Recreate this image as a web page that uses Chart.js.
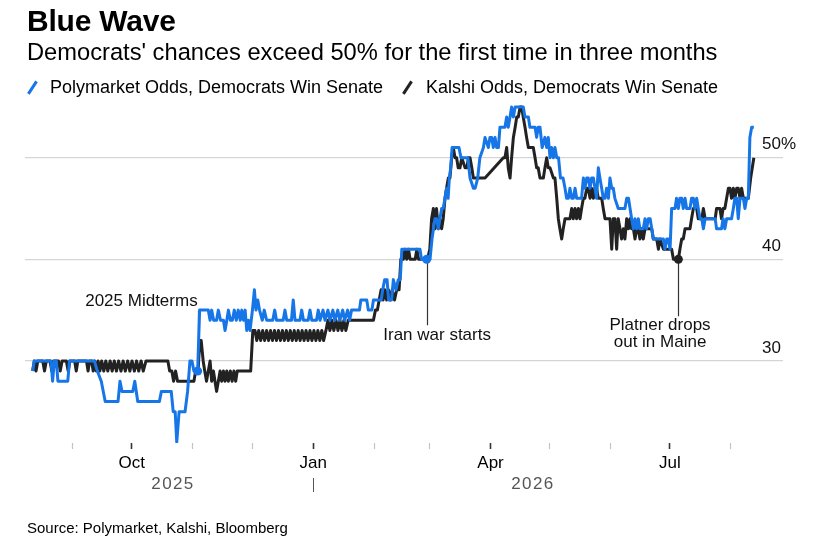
<!DOCTYPE html>
<html>
<head>
<meta charset="utf-8">
<script src="https://cdn.jsdelivr.net/npm/chart.js@4.4.1/dist/chart.umd.min.js"></script>
<style>
  html, body { margin: 0; padding: 0; background: #fff; }
  #wrap { position: relative; width: 838px; height: 544px; overflow: hidden;
          font-family: "Liberation Sans", Arial, Helvetica, sans-serif; color: #000; }
  #chart { position: absolute; left: 0; top: 0; width: 838px; height: 544px; }
  .t { position: absolute; white-space: nowrap; line-height: 1; }
  #title { left: 27px; top: 5.5px; font-size: 30px; font-weight: bold; letter-spacing: -0.2px; }
  #subtitle { left: 27px; top: 40.5px; font-size: 23.7px; }
  .leg { top: 78.2px; font-size: 18px; }
  #leg1 { left: 50px; }
  #leg2 { left: 426px; }
  .slash { position: absolute; width: 2.6px; height: 15px; top: 79.5px; transform: rotate(33deg); }
  #sl1 { left: 31.2px; background: #1676e8; }
  #sl2 { left: 406.2px; background: #222; }
  #source { left: 27px; top: 519.7px; font-size: 15px; }
</style>
</head>
<body>
<div id="wrap">
  <canvas id="chart" width="838" height="544"></canvas>
  <div class="t" id="title">Blue Wave</div>
  <div class="t" id="subtitle">Democrats' chances exceed 50% for the first time in three months</div>
  <div class="slash" id="sl1"></div>
  <div class="t leg" id="leg1">Polymarket Odds, Democrats Win Senate</div>
  <div class="slash" id="sl2"></div>
  <div class="t leg" id="leg2">Kalshi Odds, Democrats Win Senate</div>
  <div class="t" id="source">Source: Polymarket, Kalshi, Bloomberg</div>
</div>
<script>
// ---- DATA (x = days since 1 Sep 2025, y = % chance) ----
const polyDays = [
  -20.3,-19.5,-11,-10.2,-9.3,-8.3,-7.5,-2.5,-1.6,11,
  12.5,14.5,16.5,23,24,25,30.5,31.5,33,44,
  45,50,51,52,52.8,54,57,58.3,59.5,60.5,
  61.5,63.4,64.4,68.8,69.7,70.5,71.5,73,73.9,75,
  76.5,77.3,78.2,79,80,81,82,83,84,85,
  85.8,86.7,87.5,88.3,89.2,90,91.2,92.2,93,93.9,
  94.8,96.2,97.2,98.4,101.5,102.5,103.4,106.8,107.7,108.6,
  111,111.9,112.8,115.3,116.2,117.1,119.5,120.4,121.3,123.7,
  124.6,125.5,127,128,129.5,130.5,132,133,134.5,135.5,
  137,138,139.5,140.5,141.5,145.5,146.2,149.2,150,151.8,
  152.6,156.5,157.3,158.3,159.5,160.3,161.8,162.7,164,165.2,
  166.2,167,176.2,177,181.3,182.3,183.8,184.7,185.5,187.2,
  188,188.9,189.7,190.5,191.1,191.8,192.5,196,197,200.5,
  201.6,203.3,204.2,205.5,206.6,208.4,209.2,210.9,211.7,212.6,
  213.4,214.3,215.1,216,216.8,218.5,219.3,220.2,221,221.9,
  222.7,223.6,224.5,228.6,229.5,231.2,232,234.6,235.4,236.2,
  237.1,238.2,239.6,240.5,241.3,242.2,243,243.9,244.7,245.6,
  246.5,247.5,248.8,249.8,250.6,251.5,252.3,253.2,254,254.9,
  255.7,258.2,259.1,259.9,260.8,261.6,262.5,263.3,264.2,265,
  265.8,266.7,267.5,268.4,269.2,270.1,270.9,271.8,272.6,273.5,
  274.3,275.1,276.8,280.2,281.1,282,282.8,283.6,284.5,285.3,
  286.2,287,287.8,289.5,290.4,291.2,292.1,293,293.8,294.6,
  299.7,300.5,301.4,302.2,303.1,303.9,305.6,306.4,307.3,308.1,
  309,309.8,310.7,311.5,313.2,314,314.9,315.7,316.6,317.4,
  318.3,319.2,320,320.9,326,326.7,329.2,330,330.9,331.8,
  334.3,335.2,336,336.9,337.7,338.6,340.3,341.1,342,342.8,
  343.6,344.5,345.6
];
const polyValues = [
  29,30,30,28,30,30,28,28,30,30,
  29,28,26,26,28,27,27,28,26,26,
  27,27,25,25,22,25,25,27,30,30,
  29,29,35,35,34,35,34,34,35,34,
  34,33,34,35,34,34,35,34,35,34,
  35,34,35,33,34,33,35,37,35,36,
  35,34,35,34,34,35,34,34,35,34,
  34,36,34,34,35,34,34,35,34,34,
  35,34,35,34,35,34,35,34,35,34,
  35,34,35,34,35,35,36,36,35,35,
  36,36,37,38,38,36,36,38,37,38,
  38,41,41,40,40,42,44,44,43,45,
  45,46,47,46,48,49,51,51,50,50,
  48,47,47,48,50,51,52,51,52,52,
  51,52,51,51,53,53,53,54,53,54,
  55,54,55,55,54,54,53,53,52,53,
  53,51,52,51,52,50,51,50,51,50,
  50,48,48,47,46,46,47,46,46,47,
  46,46,48,47,48,48,47,48,48,47,
  46,49,48,47,46,46,47,46,48,47,
  47,46,45,45,46,46,45,44,43,44,
  43,44,43,43,44,43,44,44,43,42,
  42,41,42,42,41,45,45,46,45,46,
  46,45,46,45,45,46,46,45,46,45,
  44,44,43,44,44,43,43,44,43,44,
  44,45,46,46,44,46,46,45,46,46,
  52,53,53
];
const kalshiDays = [
  -20.3,-19.5,-18.6,-17.7,-15.2,-14.3,-13.4,-11.5,-10.6,-9.7,
  -7.2,-6.3,-5.4,-3.2,-2.3,-1.4,1,1.8,2.6,7,
  7.8,8.6,9.6,10.4,11.2,12,12.9,13.8,14.7,15.8,
  16.8,17.8,19,20,21.1,22.2,23.3,24.5,25.6,26.7,
  27.9,29,30.1,31.3,32.4,33.5,34.7,35.8,37.2,48.3,
  49.2,50.3,51.2,52.2,53.2,61.5,62.4,63.6,64.5,65.2,
  66.2,67,67.9,68.8,69.7,70.5,71.4,72.2,73,73.9,
  74.8,75.6,76.5,77.3,78.2,79,80,80.9,81.8,82.7,
  83.5,90.3,91.4,92.5,93.4,94.4,95.4,96.4,97.4,98.4,
  99.4,100.4,101.4,102.4,103.4,104.4,105.4,106.4,107.4,108.4,
  109.4,110.4,111.4,112.4,113.4,114.4,115.4,116.4,117.4,118.4,
  119.4,120.4,121.4,122.4,123.4,124.4,125.4,126.4,127.3,128.5,
  129.5,130.5,131.5,132.5,133.6,134.6,135.6,136.6,137.6,138.6,
  139.8,152.6,153.6,154.6,155.5,156.5,157.5,158.4,159.3,160.2,
  161.1,162.1,163.3,164.4,165.6,166.5,167.8,168.6,169.5,170.4,
  171.2,173.8,174.6,175.5,180,181.2,182.1,183,183.8,184.6,
  185.5,186.3,187.2,188,188.9,189.7,190.6,191.4,192.3,193.1,
  194,194.8,195.6,196.5,197.4,199.1,200,200.8,201.6,202.5,
  203.3,209.2,218.5,219.3,220.2,221,221.9,222.7,223.6,224.5,
  225.3,226.1,227,227.8,228.6,229.5,230.3,231.2,233.7,234.6,
  235.4,236.2,237.1,238.8,239.6,240.5,241.3,242.2,243.9,244.7,
  245.6,246.4,247.2,248.1,248.9,249.8,250.6,252.3,253.2,254,
  254.9,255.7,256.6,257.4,258.2,259.1,259.9,260.8,261.6,262.5,
  263.3,264.2,265,265.8,266.7,268.4,269.2,270.1,271.8,272.6,
  273.5,274.3,275.1,276,276.8,277.7,278.5,279.4,280.2,281.1,
  282,282.8,283.6,284.5,285.3,286.2,287,287.8,288.7,289.5,
  290.4,293.8,294.6,296.3,297.2,298,299.7,301.4,303.1,303.9,
  304.8,306.4,307.3,308.1,309,309.8,310.7,313.2,314,314.9,
  315.7,316.6,317.4,319.2,320,320.9,326,326.7,328.4,329.2,
  330,330.9,331.8,332.7,333.5,334.3,335.2,336,336.9,337.7,
  338.6,339.4,340.3,341.1,342,342.8,344,345.6
];
const kalshiValues = [
  29,30,29,30,30,29,30,30,29,30,
  30,29,30,30,29,30,30,29,30,30,
  29,30,30,29,30,29,30,29,30,29,
  30,29,30,29,30,29,30,29,30,29,
  30,29,30,29,30,29,30,29,30,30,
  29,29,28,29,28,28,29,29,32,32,
  30,29,28,29,30,28,29,28,27,28,
  29,28,29,28,29,28,29,28,29,28,
  29,29,33,33,32,33,32,33,32,33,
  32,33,32,33,32,33,32,33,32,33,
  32,33,32,33,32,33,32,33,32,33,
  32,33,32,33,32,33,32,33,32,33,
  34,33,34,33,34,33,34,33,34,33,
  34,34,35,35,36,37,36,37,36,37,
  36,37,36,37,37,40,40,41,40,41,
  40,40,41,40,40,41,44,45,43,45,
  43,44,43,44,46,47,48,48,50,51,
  50,50,49,49,50,49,49,50,50,49,
  48,48,50,50,51,49,48,50,52,53,
  54,54,55,55,54,53,52,51,51,50,
  49,49,48,48,49,50,49,49,48,48,
  46,44,43,42,43,44,44,44,45,44,
  45,44,45,44,45,46,46,47,47,46,
  47,46,47,47,46,46,45,44,44,44,
  41,44,44,41,44,43,42,43,42,44,
  43,44,43,43,42,43,43,42,43,42,
  43,43,42,42,41,42,41,41,41,41,
  40,40,40,41,42,42,43,43,44,45,
  45,45,44,44,45,44,44,45,45,44,
  45,45,46,47,47,46,47,46,47,47,
  46,47,46,46,46,46,48,50
];
const seriesNames = ['Polymarket Odds, Democrats Win Senate', 'Kalshi Odds, Democrats Win Senate'];

// x-axis month ticks (days since 1 Sep 2025) and labels
const monthTickDays = [0, 30, 61, 91, 122, 153, 181, 212, 242, 273, 303, 334];
const monthTickLabels = ['', 'Oct', '', '', 'Jan', '', '', 'Apr', '', '', 'Jul', ''];
const majorTickDays = [30, 122, 212, 303];
const yearLabels = ['2025', '2026'];
const yearLabelDays = [50.9, 233.5];
const yearDividerDays = [122];

// y-axis ticks
const yTickValues = [30, 40, 50];
const yTickLabels = ['30', '40', '50%'];

// events
const eventLabels = [['2025 Midterms'], ['Iran war starts'], ['Platner drops', 'out in Maine']];
const eventDays = [63.4, 179.6, 307.3];
const eventValues = [29, 40, 40];
const eventSeries = [0, 0, 1];

// ---- STYLE / LAYOUT ----
const BLUE = '#1676e8';
const DARK = '#222222';
const FONT = '"Liberation Sans", Arial, Helvetica, sans-serif';
const eventLayout = [
  { lineLen: -60, align: 'right',  dx: 0,     dy: [-65] },
  { lineLen: 66,  align: 'left',   dx: -43.4, dy: [80.4] },
  { lineLen: 57,  align: 'center', dx: -18.3, dy: [70.8, 87.5] }
];

const toPoints = (xs, ys) => xs.map((d, i) => ({ x: d, y: ys[i] }));

const overlay = {
  id: 'overlay',
  beforeDatasetsDraw(chart) {
    const { ctx, scales: { x, y } } = chart;
    ctx.save();
    ctx.strokeStyle = '#333';
    ctx.lineWidth = 1.2;
    eventDays.forEach((d, i) => {
      const px = Math.round(x.getPixelForValue(d)) + 0.5;
      const py = y.getPixelForValue(eventValues[i]);
      ctx.beginPath();
      ctx.moveTo(px, py);
      ctx.lineTo(px, py + eventLayout[i].lineLen);
      ctx.stroke();
    });
    ctx.restore();
  },
  afterDraw(chart) {
    const { ctx, chartArea, scales: { x, y } } = chart;
    ctx.save();
    ctx.font = '17px ' + FONT;
    ctx.fillStyle = '#111';
    ctx.textAlign = 'left';
    ctx.textBaseline = 'alphabetic';
    yTickValues.forEach((v, i) => {
      ctx.fillText(yTickLabels[i], chartArea.right - 21, y.getPixelForValue(v) - 8.3);
    });
    ctx.fillStyle = '#555';
    ctx.textAlign = 'center';
    try { ctx.letterSpacing = '1.4px'; } catch (e) {}
    yearLabels.forEach((t, i) => {
      ctx.fillText(t, x.getPixelForValue(yearLabelDays[i]), 489);
    });
    try { ctx.letterSpacing = '0px'; } catch (e) {}
    ctx.strokeStyle = '#555';
    ctx.lineWidth = 1;
    yearDividerDays.forEach(d => {
      const px = Math.round(x.getPixelForValue(d)) + 0.5;
      ctx.beginPath(); ctx.moveTo(px, 478); ctx.lineTo(px, 492); ctx.stroke();
    });
    ctx.fillStyle = '#111';
    eventDays.forEach((d, i) => {
      const L = eventLayout[i];
      const px = x.getPixelForValue(d);
      const py = y.getPixelForValue(eventValues[i]);
      ctx.textAlign = L.align;
      eventLabels[i].forEach((line, j) => {
        ctx.fillText(line, px + L.dx, py + L.dy[j]);
      });
    });
    ctx.restore();
  }
};

new Chart(document.getElementById('chart'), {
  type: 'line',
  data: {
    datasets: [
      {
        label: 'Events',
        type: 'scatter',
        data: toPoints(eventDays, eventValues),
        pointRadius: 4.5,
        pointHoverRadius: 4.5,
        pointBorderWidth: 0,
        pointBackgroundColor: eventSeries.map(s => s ? DARK : BLUE),
        showLine: false,
        order: 0
      },
      {
        label: seriesNames[0],
        data: toPoints(polyDays, polyValues),
        borderColor: BLUE,
        borderWidth: 3,
        pointRadius: 0,
        fill: false,
        order: 1
      },
      {
        label: seriesNames[1],
        data: toPoints(kalshiDays, kalshiValues),
        borderColor: DARK,
        borderWidth: 3,
        pointRadius: 0,
        fill: false,
        order: 2
      }
    ]
  },
  options: {
    responsive: false,
    animation: false,
    events: [],
    layout: { padding: { left: 25, right: 55, top: 100, bottom: 61 } },
    elements: { line: { tension: 0, borderJoinStyle: 'round', borderCapStyle: 'butt' } },
    plugins: { legend: { display: false }, tooltip: { enabled: false }, title: { display: false } },
    scales: {
      x: {
        type: 'linear',
        min: -24.2,
        max: 360.4,
        afterFit(s) { s.height = 40; },
        afterBuildTicks(s) { s.ticks = monthTickDays.map(v => ({ value: v })); },
        border: { display: false },
        grid: {
          display: true,
          drawOnChartArea: false,
          drawTicks: true,
          tickLength: 6,
          tickColor: c => (c.tick && majorTickDays.includes(c.tick.value)) ? '#333' : '#c4c4c4',
          tickWidth: c => (c.tick && majorTickDays.includes(c.tick.value)) ? 1.6 : 1.2
        },
        ticks: {
          autoSkip: false,
          maxRotation: 0,
          minRotation: 0,
          padding: 4,
          color: '#000',
          font: { family: FONT, size: 17 },
          callback: (v, i) => monthTickLabels[i]
        }
      },
      y: {
        type: 'linear',
        position: 'right',
        min: 21.92,
        max: 55.68,
        afterFit(s) { s.width = 0; },
        afterBuildTicks(s) { s.ticks = yTickValues.map(v => ({ value: v })); },
        border: { display: false },
        grid: { color: '#d5d5d5', lineWidth: 1.3, drawTicks: false },
        ticks: { display: false }
      }
    }
  },
  plugins: [overlay]
});
</script>
</body>
</html>
